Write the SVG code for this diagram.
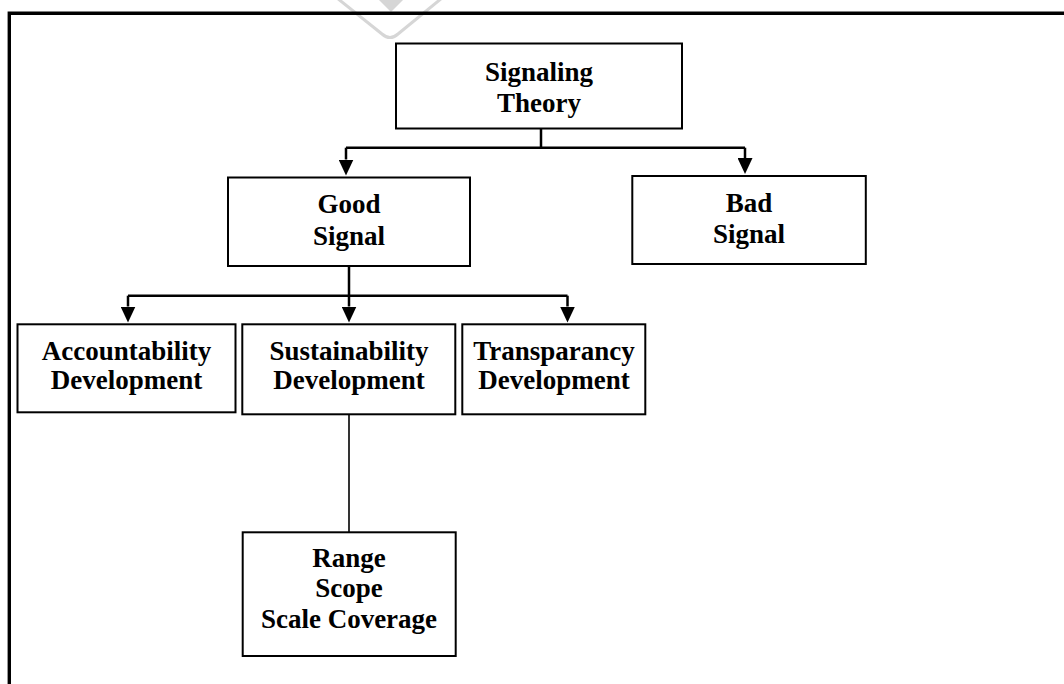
<svg xmlns="http://www.w3.org/2000/svg" width="1064" height="684" viewBox="0 0 1064 684">
  <defs>
    <style>
      .box { fill: #ffffff; stroke: #000000; stroke-width: 2; }
      .lbl { font-family: "Liberation Serif", "Times New Roman", serif; font-weight: bold; font-size: 27px; fill: #000000; text-anchor: middle; }
      .wire { fill: none; stroke: #000000; stroke-width: 2.5; }
      .thin { fill: none; stroke: #000000; stroke-width: 1.6; }
    </style>
    <marker id="head" viewBox="0 0 16 15" refX="0" refY="7.5" markerWidth="16" markerHeight="15" markerUnits="userSpaceOnUse" orient="auto">
      <path d="M0,0 L16,7.5 L0,15 z" fill="#000000"/>
    </marker>
  </defs>

  <rect width="1064" height="684" fill="#ffffff"/>

  <!-- faint mark at the top edge -->
  <g id="mark" fill="none" stroke="#d6d6d6" stroke-width="3">
    <path d="M337,-2 L382,34 Q390,41 398,34 L442,-2"/>
    <path d="M379,0 L403,0 L391,12 z" fill="#d6d6d6" stroke="none"/>
  </g>

  <!-- page frame -->
  <path d="M9.3,690 V13.2 H1070" fill="none" stroke="#000000" stroke-width="3.4"/>

  <g id="connectors">
    <path class="wire" d="M541,128 V147.7 M346,147.7 H745"/>
    <path class="wire" d="M346,147.7 V159.5" marker-end="url(#head)"/>
    <path class="wire" d="M745,147.7 V158" marker-end="url(#head)"/>
    <path class="wire" d="M349,266 V295.7 M128,295.7 H567.5"/>
    <path class="wire" d="M128,295.7 V306.5" marker-end="url(#head)"/>
    <path class="wire" d="M349,295.7 V306.5" marker-end="url(#head)"/>
    <path class="wire" d="M567.5,295.7 V306.5" marker-end="url(#head)"/>
    <path class="thin" d="M349,414 V532"/>
  </g>

  <g id="signaling-theory">
    <rect class="box" x="396" y="43.5" width="286" height="85"/>
    <text class="lbl" x="539" y="80.7">Signaling</text>
    <text class="lbl" x="539" y="111.7">Theory</text>
  </g>

  <g id="good-signal">
    <rect class="box" x="228" y="177.5" width="242" height="88.5"/>
    <text class="lbl" x="349" y="213">Good</text>
    <text class="lbl" x="349" y="245">Signal</text>
  </g>

  <g id="bad-signal">
    <rect class="box" x="632.3" y="176" width="233.5" height="88"/>
    <text class="lbl" x="749" y="211.7">Bad</text>
    <text class="lbl" x="749" y="243.3">Signal</text>
  </g>

  <g id="accountability">
    <rect class="box" x="17.5" y="324.3" width="218" height="88"/>
    <text class="lbl" x="126.5" y="360">Accountability</text>
    <text class="lbl" x="126.5" y="389">Development</text>
  </g>

  <g id="sustainability">
    <rect class="box" x="242.3" y="324.3" width="213" height="90"/>
    <text class="lbl" x="349" y="360">Sustainability</text>
    <text class="lbl" x="349" y="389">Development</text>
  </g>

  <g id="transparancy">
    <rect class="box" x="462.3" y="324.3" width="183" height="90"/>
    <text class="lbl" x="554" y="360">Transparancy</text>
    <text class="lbl" x="554" y="389">Development</text>
  </g>

  <g id="range-scope">
    <rect class="box" x="242.7" y="532.3" width="213" height="123.7"/>
    <text class="lbl" x="349" y="566.7">Range</text>
    <text class="lbl" x="349" y="597.3">Scope</text>
    <text class="lbl" x="349" y="627.7">Scale Coverage</text>
  </g>
</svg>
